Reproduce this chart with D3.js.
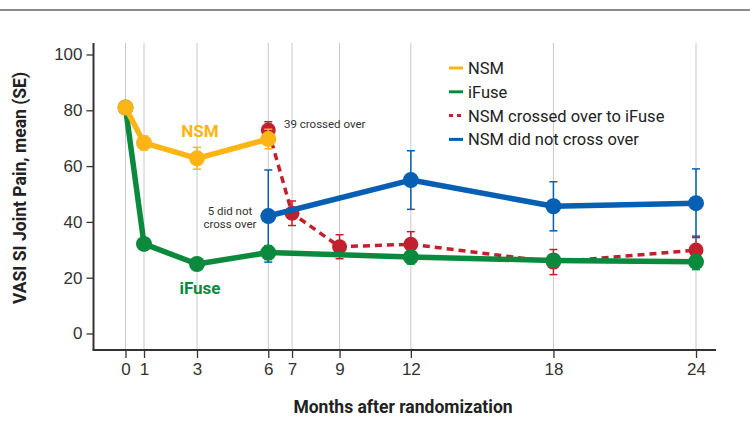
<!DOCTYPE html>
<html>
<head>
<meta charset="utf-8">
<script src="https://cdn.jsdelivr.net/npm/d3@7"></script>
<style>
  body { margin: 0; background: #fff; }
  svg { display: block; font-family: Roboto, "Liberation Sans", sans-serif; }
</style>
</head>
<body>
<svg width="750" height="432"></svg>
<script>
// months on the x axis
var months = [0, 1, 3, 6, 7, 9, 12, 18, 24];
var yTicks = [0, 20, 40, 60, 80, 100];

// series: month, mean, se
var nsmMonths = [0, 1, 3, 6];
var nsmMean = [81, 68.3, 62.8, 69.7];
var nsmSE = [0, 2.5, 3.9, 3.5];

var ifuseMonths = [0, 1, 3, 6, 12, 18, 24];
var ifuseMean = [81, 32.1, 24.9, 29, 27.4, 26.2, 25.7];
var ifuseSE = [0, 1.5, 1.5, 2.5, 2.5, 2, 2.8];

var crossMonths = [6, 7, 9, 12, 18, 24];
var crossMean = [72.9, 43.1, 31.1, 32, 25.6, 29.9];
var crossSE = [3, 4.4, 4.3, 4.5, 4.5, 5];

var noCrossMonths = [6, 12, 18, 24];
var noCrossMean = [42.1, 55, 45.6, 46.7];
var noCrossSE = [16.5, 10.5, 8.8, 12.3];

var legendLabels = ["NSM", "iFuse", "NSM crossed over to iFuse", "NSM did not cross over"];

var YELLOW = "#fdb515", GREEN = "#0b8a3e", RED = "#c1202f", BLUE = "#065fb3";

function rows(m, v, s) { return m.map(function(d, i) { return {x: d, y: v[i], se: s[i]}; }); }

var svg = d3.select("svg");

// thin rule on top
svg.append("line").attr("x1", 0).attr("x2", 750).attr("y1", 10).attr("y2", 10)
  .attr("stroke", "#8a8a8a").attr("stroke-width", 2);

var x = d3.scaleLinear().domain([0, 1, 3, 24]).range([125.5, 144, 197, 696]);
var y = d3.scaleLinear().domain([0, 100]).range([333.5, 54.5]);
var plotTop = 43, plotBottom = 350, plotLeft = 93.5, plotRight = 716;

// vertical grid
svg.append("g").selectAll("line").data(months).enter().append("line")
  .attr("x1", function(d) { return x(d); }).attr("x2", function(d) { return x(d); })
  .attr("y1", plotTop).attr("y2", plotBottom)
  .attr("stroke", "#c8c8c8").attr("stroke-width", 1);

// axes
var yAxis = svg.append("g").attr("transform", "translate(" + plotLeft + ",0)")
  .call(d3.axisLeft(y).tickValues(yTicks).tickSize(7).tickPadding(4));
yAxis.select(".domain").remove();
yAxis.append("line").attr("x1", 0).attr("x2", 0).attr("y1", plotTop).attr("y2", plotBottom)
  .attr("stroke", "#333").attr("stroke-width", 2);

var xAxis = svg.append("g").attr("transform", "translate(0," + plotBottom + ")")
  .call(d3.axisBottom(x).tickValues(months).tickFormat(d3.format("d")).tickSize(8).tickPadding(5));
xAxis.select(".domain").remove();
xAxis.append("line").attr("x1", plotLeft - 1).attr("x2", plotRight).attr("y1", 0).attr("y2", 0)
  .attr("stroke", "#333").attr("stroke-width", 2);

svg.selectAll(".tick line").attr("stroke", "#333").attr("stroke-width", 1.3);
svg.selectAll(".tick text").attr("fill", "#333").style("font-size", "17px");

// axis titles
svg.append("text").attr("transform", "translate(26,188) rotate(-90)")
  .attr("text-anchor", "middle").attr("fill", "#222")
  .style("font-size", "17.5px").style("font-weight", "bold")
  .text("VASI SI Joint Pain, mean (SE)");
svg.append("text").attr("x", 403).attr("y", 413)
  .attr("text-anchor", "middle").attr("fill", "#222")
  .style("font-size", "17.5px").style("font-weight", "bold")
  .text("Months after randomization");

var line = d3.line().x(function(d) { return x(d.x); }).y(function(d) { return y(d.y); });

function errorBars(data, color, w) {
  var g = svg.append("g").attr("stroke", color).attr("stroke-width", w);
  var e = data.filter(function(d) { return d.se > 0; });
  g.selectAll(".v").data(e).enter().append("line")
    .attr("x1", function(d) { return x(d.x); }).attr("x2", function(d) { return x(d.x); })
    .attr("y1", function(d) { return y(d.y + d.se); }).attr("y2", function(d) { return y(d.y - d.se); });
  [1, -1].forEach(function(s) {
    g.selectAll(".c" + s).data(e).enter().append("line")
      .attr("x1", function(d) { return x(d.x) - 4; }).attr("x2", function(d) { return x(d.x) + 4; })
      .attr("y1", function(d) { return y(d.y + s * d.se); }).attr("y2", function(d) { return y(d.y + s * d.se); });
  });
}

function series(data, color, width, dash, r) {
  svg.append("path").datum(data).attr("d", line)
    .attr("fill", "none").attr("stroke", color).attr("stroke-width", width)
    .attr("stroke-dasharray", dash).attr("stroke-linejoin", "round");
  errorBars(data, color, 1.5);
  svg.append("g").selectAll("circle").data(data).enter().append("circle")
    .attr("cx", function(d) { return x(d.x); }).attr("cy", function(d) { return y(d.y); })
    .attr("r", r).attr("fill", color);
}

var crossData = rows(crossMonths, crossMean, crossSE);
var noCrossData = rows(noCrossMonths, noCrossMean, noCrossSE);
var ifuseData = rows(ifuseMonths, ifuseMean, ifuseSE);
var nsmData = rows(nsmMonths, nsmMean, nsmSE);

series(crossData, RED, 3.5, "7,5", 7.5);
series(noCrossData, BLUE, 5.5, null, 8);
series(ifuseData, GREEN, 5.5, null, 8);
series(nsmData, YELLOW, 5.5, null, 8);

// annotations
svg.append("text").attr("x", 200).attr("y", 137).attr("text-anchor", "middle")
  .attr("fill", YELLOW).style("font-size", "17px").style("font-weight", "bold").text("NSM");
svg.append("text").attr("x", 200).attr("y", 294).attr("text-anchor", "middle")
  .attr("fill", GREEN).style("font-size", "17px").style("font-weight", "bold").text("iFuse");
svg.append("text").attr("x", 284).attr("y", 128).attr("fill", "#333")
  .style("font-size", "11.5px").text("39 crossed over");
var t5 = svg.append("text").attr("text-anchor", "middle").attr("fill", "#333").style("font-size", "11.5px");
t5.append("tspan").attr("x", 230).attr("y", 215).text("5 did not");
t5.append("tspan").attr("x", 230).attr("y", 228).text("cross over");

// legend
var legColors = [YELLOW, GREEN, RED, BLUE];
var leg = svg.append("g").selectAll("g").data(legendLabels).enter().append("g")
  .attr("transform", function(d, i) { return "translate(449," + (68 + i * 23.8) + ")"; });
leg.append("line").attr("x1", 0).attr("x2", 14).attr("y1", 0).attr("y2", 0)
  .attr("stroke", function(d, i) { return legColors[i]; }).attr("stroke-width", 3)
  .attr("stroke-dasharray", function(d, i) { return i === 2 ? "4,4" : null; });
leg.append("text").attr("x", 19).attr("y", 6).attr("fill", "#222")
  .style("font-size", "16.5px").text(function(d) { return d; });
</script>
</body>
</html>
